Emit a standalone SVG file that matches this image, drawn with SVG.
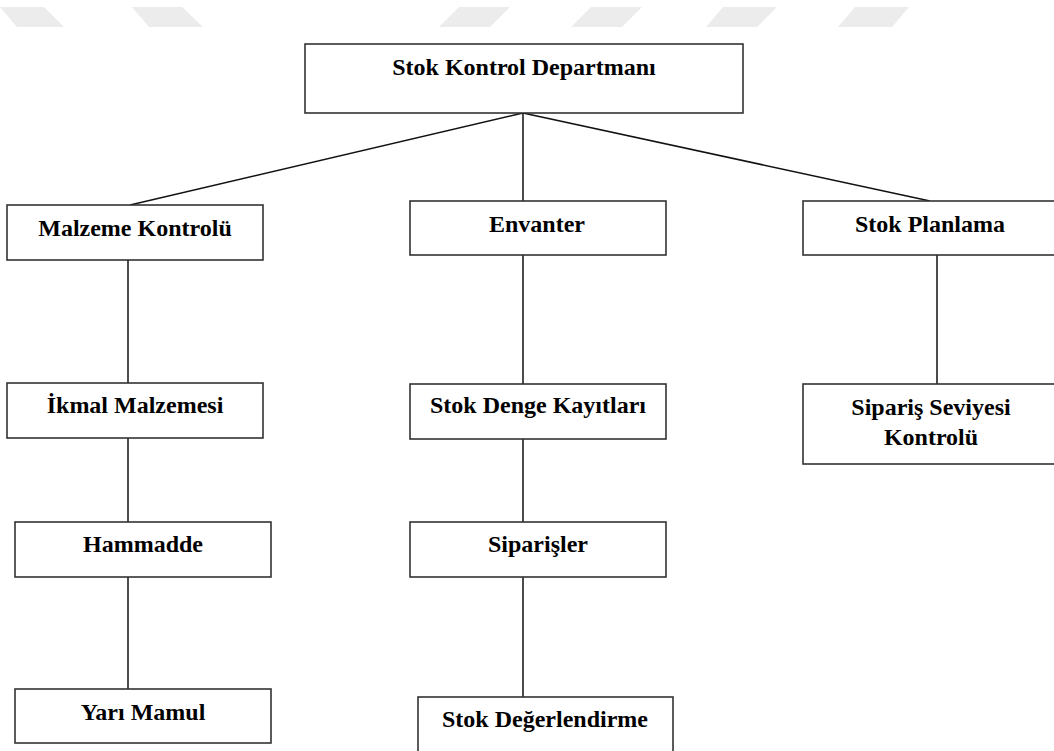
<svg xmlns="http://www.w3.org/2000/svg" width="1054" height="751" viewBox="0 0 1054 751">
<style>
.wm{fill:#ececec}
.box{fill:#fff;stroke:#333;stroke-width:1.6}
.lbl{font-family:"Liberation Serif","Times New Roman",serif;font-weight:bold;font-size:24px;fill:#000;text-anchor:middle}
.con{stroke:#111;stroke-width:1.5;fill:none}
</style>
<rect width="1054" height="751" fill="#fff"/>
<g id="watermark">
<polygon class="wm" points="0,7 44,7 64,27 17,27"/>
<polygon class="wm" points="132,7 182,7 203,27 149,27"/>
<polygon class="wm" points="459,7 510,7 490,27 439,27"/>
<polygon class="wm" points="591,7 642,7 622,27 571,27"/>
<polygon class="wm" points="723,7 777,7 757,27 706,27"/>
<polygon class="wm" points="855,7 909,7 892,27 838,27"/>
</g>
<g id="connectors">
<line class="con" x1="523" y1="113" x2="130" y2="205"/>
<line class="con" x1="523" y1="113" x2="523" y2="201"/>
<line class="con" x1="523" y1="113" x2="930" y2="201"/>
<line class="con" x1="128" y1="260" x2="128" y2="383"/>
<line class="con" x1="128" y1="438" x2="128" y2="522"/>
<line class="con" x1="128" y1="577" x2="128" y2="689"/>
<line class="con" x1="523" y1="255" x2="523" y2="384"/>
<line class="con" x1="523" y1="439" x2="523" y2="522"/>
<line class="con" x1="523" y1="577" x2="523" y2="697"/>
<line class="con" x1="937" y1="255" x2="937" y2="384"/>
</g>
<g id="stok-kontrol-departmani">
<rect class="box" x="305" y="44" width="438" height="69"/>
<text class="lbl" x="524" y="75">Stok Kontrol Departmanı</text>
</g>
<g id="malzeme-kontrolu">
<rect class="box" x="7" y="205" width="256" height="55"/>
<text class="lbl" x="135" y="236">Malzeme Kontrolü</text>
</g>
<g id="envanter">
<rect class="box" x="410" y="201" width="256" height="54"/>
<text class="lbl" x="537" y="232">Envanter</text>
</g>
<g id="stok-planlama">
<rect class="box" x="803" y="201" width="255" height="54"/>
<text class="lbl" x="930" y="232">Stok Planlama</text>
</g>
<g id="ikmal-malzemesi">
<rect class="box" x="7" y="383" width="256" height="55"/>
<text class="lbl" x="135" y="413">İkmal Malzemesi</text>
</g>
<g id="stok-denge-kayitlari">
<rect class="box" x="410" y="384" width="256" height="55"/>
<text class="lbl" x="538" y="413">Stok Denge Kayıtları</text>
</g>
<g id="siparis-seviyesi-kontrolu">
<rect class="box" x="803" y="384" width="255" height="80"/>
<text class="lbl" x="931" y="415">Sipariş Seviyesi</text>
<text class="lbl" x="931" y="445">Kontrolü</text>
</g>
<g id="hammadde">
<rect class="box" x="15" y="522" width="256" height="55"/>
<text class="lbl" x="143" y="552">Hammadde</text>
</g>
<g id="siparisler">
<rect class="box" x="410" y="522" width="256" height="55"/>
<text class="lbl" x="538" y="552">Siparişler</text>
</g>
<g id="yari-mamul">
<rect class="box" x="15" y="689" width="256" height="54"/>
<text class="lbl" x="143" y="720">Yarı Mamul</text>
</g>
<g id="stok-degerlendirme">
<rect class="box" x="418" y="697" width="255" height="56"/>
<text class="lbl" x="545" y="727">Stok Değerlendirme</text>
</g>
</svg>
